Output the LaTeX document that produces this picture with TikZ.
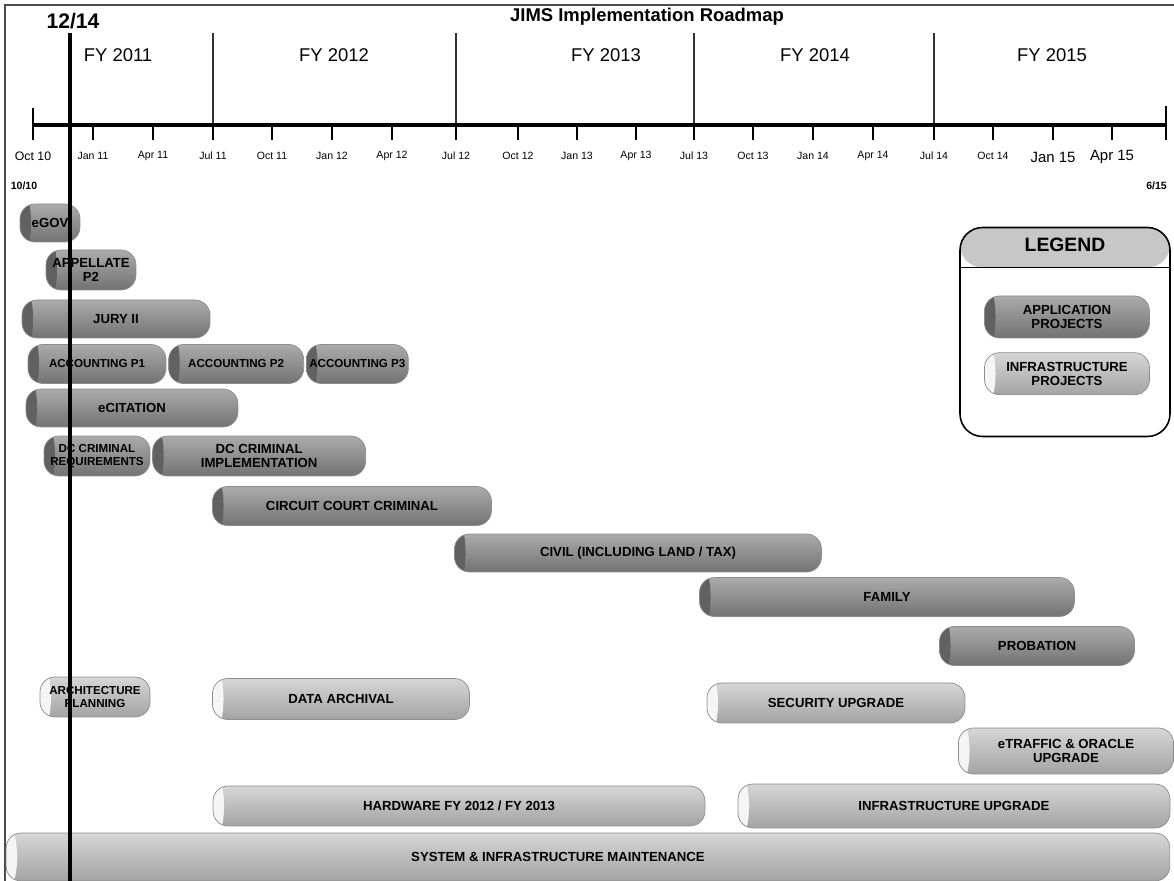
\documentclass[tikz,border=0pt]{standalone}
\usepackage{fontspec}
\setmainfont{Liberation Sans}
\usetikzlibrary{positioning}

\tikzset{
  bar/.style={rounded corners=0.3cm, draw=black!45, line width=0.4pt, align=center, inner sep=1pt,
    font=\fontsize{7.5}{8}\selectfont\bfseries},
  appbar/.style={bar, top color=black!33, bottom color=black!55,
    path picture={\fill[black!62] ([xshift=0.08cm]path picture bounding box.west) ellipse (0.14cm and 0.6cm);}},
  infrabar/.style={bar, top color=black!16, bottom color=black!36,
    path picture={\fill[black!4] ([xshift=0.06cm]path picture bounding box.west) ellipse (0.16cm and 0.6cm);}},
  smalltext/.style={font=\fontsize{6.6}{7}\selectfont\bfseries},
  month/.style={font=\fontsize{6}{7}\selectfont},
  fylabel/.style={font=\fontsize{10.5}{12}\selectfont},
}

\begin{document}
\begin{tikzpicture}[x=0.02cm, y=-0.02cm]
  \useasboundingbox (0,0) rectangle (1174,881);
  % frame
  \draw[line width=1.2pt, black!70] (5,881) -- (5,5) -- (1174,5);

  \node[font=\fontsize{10.5}{12}\selectfont\bfseries] (title) at (647,17) {JIMS Implementation Roadmap};

  % fiscal years
  \foreach \x in {213, 456, 694, 934}
    \draw[line width=0.9pt, black!80] (\x,33) -- (\x,140);
  \node[fylabel] (fy11) at (118,55) {FY 2011};
  \node[fylabel] (fy12) at (334,55) {FY 2012};
  \node[fylabel] (fy13) at (606,55) {FY 2013};
  \node[fylabel] (fy14) at (815,55) {FY 2014};
  \node[fylabel] (fy15) at (1052,55) {FY 2015};

  % time axis
  \draw[line width=2.2pt] (33,125) -- (1166,125);
  \draw[line width=0.9pt] (33,108) -- (33,140);
  \draw[line width=0.9pt] (1166,106) -- (1166,140);
  \foreach \x/\m [count=\i] in {93/Jan 11, 153/Apr 11, 213/Jul 11, 272/Oct 11, 332/Jan 12,
      392/Apr 12, 456/Jul 12, 518/Oct 12, 577/Jan 13, 636/Apr 13, 694/Jul 13, 753/Oct 13,
      813/Jan 14, 873/Apr 14, 934/Jul 14, 993/Oct 14}{
    \draw[line width=0.8pt] (\x,125) -- (\x,140);
    \node[month] (m\i) at (\x,156) {\m};
  }
  \draw[line width=0.8pt] (1053,125) -- (1053,140);
  \draw[line width=0.8pt] (1112,125) -- (1112,140);
  \node[font=\fontsize{7}{8}\selectfont] (m0) at (33,156) {Oct 10};
  \node[font=\fontsize{8.5}{9}\selectfont] (m17) at (1053,157) {Jan 15};
  \node[font=\fontsize{8.5}{9}\selectfont] (m18) at (1112,157) {Apr 15};
  \node[font=\fontsize{6}{7}\selectfont\bfseries] (start) at (24,186) {10/10};
  \node[font=\fontsize{6}{7}\selectfont\bfseries, anchor=east] (finish) at (1173,186) {6/15};

  % application projects
  \node[appbar, minimum width=1.2cm, minimum height=0.76cm] (egov) at (50,223) {eGOV};
  \node[appbar, minimum width=1.8cm, minimum height=0.8cm] (appellate) at (91,270) {APPELLATE\\P2};
  \node[appbar, minimum width=3.76cm, minimum height=0.76cm] (jury) at (116,319) {JURY II};
  \node[appbar, smalltext, minimum width=2.76cm, minimum height=0.78cm] (acct1) at (97,364) {ACCOUNTING P1};
  \node[appbar, smalltext, minimum width=2.7cm, minimum height=0.78cm, right=0.04cm of acct1] (acct2) {ACCOUNTING P2};
  \node[appbar, smalltext, minimum width=2.04cm, minimum height=0.78cm, right=0.04cm of acct2] (acct3) {ACCOUNTING P3};
  \node[appbar, minimum width=4.24cm, minimum height=0.76cm] (ecitation) at (132,408) {eCITATION};
  \node[appbar, smalltext, minimum width=2.12cm, minimum height=0.8cm] (dcreq) at (97,456) {DC CRIMINAL\\REQUIREMENTS};
  \node[appbar, minimum width=4.26cm, minimum height=0.8cm, right=0.04cm of dcreq] (dcimpl) {DC CRIMINAL\\IMPLEMENTATION};
  \node[appbar, minimum width=5.58cm, minimum height=0.78cm] (circuit) at (352,506) {CIRCUIT COURT CRIMINAL};
  \node[appbar, minimum width=7.34cm, minimum height=0.76cm] (civil) at (638,553) {CIVIL (INCLUDING LAND / TAX)};
  \node[appbar, minimum width=7.5cm, minimum height=0.78cm] (family) at (887,597) {FAMILY};
  \node[appbar, minimum width=3.9cm, minimum height=0.78cm] (probation) at (1037,646) {PROBATION};

  % infrastructure projects
  \node[infrabar, smalltext, minimum width=2.2cm, minimum height=0.8cm] (archplan) at (95,697) {ARCHITECTURE\\PLANNING};
  \node[infrabar, minimum width=5.14cm, minimum height=0.82cm] (archival) at (341,699) {DATA ARCHIVAL};
  \node[infrabar, minimum width=5.16cm, minimum height=0.8cm] (security) at (836,703) {SECURITY UPGRADE};
  \node[infrabar, minimum width=4.3cm, minimum height=0.92cm] (etraffic) at (1066,751) {eTRAFFIC \& ORACLE\\UPGRADE};
  \node[infrabar, minimum width=9.84cm, minimum height=0.8cm] (hardware) at (459,806) {HARDWARE FY 2012 / FY 2013};
  \node[infrabar, minimum width=8.64cm, minimum height=0.88cm] (infraupg) at (954,806) {INFRASTRUCTURE UPGRADE};
  \node[infrabar, minimum width=23.28cm, minimum height=0.96cm] (maint) at (588,857) {\hspace*{-1.2cm}SYSTEM \& INFRASTRUCTURE MAINTENANCE};

  % legend
  \node[draw, line width=0.9pt, rounded corners=0.45cm, minimum width=4.2cm, minimum height=4.18cm,
    path picture={\fill[black!22] (path picture bounding box.north west) rectangle ([yshift=-0.8cm]path picture bounding box.north east);
      \draw[line width=0.6pt] ([yshift=-0.8cm]path picture bounding box.north west) -- ([yshift=-0.8cm]path picture bounding box.north east);}]
    (legend) at (1065,332) {};
  \node[font=\fontsize{11}{12}\selectfont\bfseries, below=0.1cm of legend.north] (legendtitle) {LEGEND};
  \node[appbar, minimum width=3.3cm, minimum height=0.84cm] (legapp) at (1067,317) {APPLICATION\\PROJECTS};
  \node[infrabar, minimum width=3.3cm, minimum height=0.84cm, below=0.28cm of legapp] (leginfra) {INFRASTRUCTURE\\PROJECTS};

  % today line
  \node[font=\fontsize{12}{13}\selectfont\bfseries] (today) at (73,21) {12/14};
  \draw[line width=1.8pt] (70,33) -- (70,881);
\end{tikzpicture}
\end{document}
